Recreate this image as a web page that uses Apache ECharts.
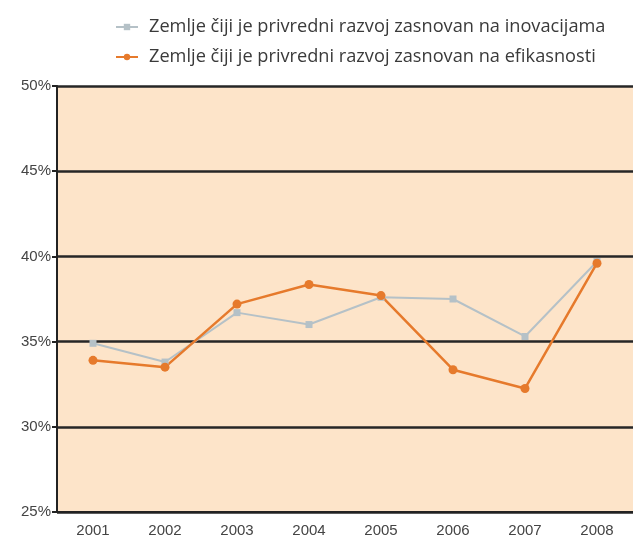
<!DOCTYPE html>
<html>
<head>
<meta charset="utf-8">
<script src="https://cdn.jsdelivr.net/npm/echarts@6/dist/echarts.min.js"></script>
<style>
  html, body { margin: 0; padding: 0; background: #fff; }
  #chart-wrapper { width: 633px; height: 542px; }
</style>
</head>
<body>
<div id="chart-wrapper"></div>
<script>
const years = ['2001', '2002', '2003', '2004', '2005', '2006', '2007', '2008']
const innovationName = 'Zemlje čiji je privredni razvoj zasnovan na inovacijama'
const efficiencyName = 'Zemlje čiji je privredni razvoj zasnovan na efikasnosti'
const innovation = [34.9, 33.8, 36.7, 36.0, 37.6, 37.5, 35.3, 39.7]
const efficiency = [33.9, 33.5, 37.2, 38.35, 37.7, 33.35, 32.25, 39.6]

const chart = echarts.init(document.getElementById('chart-wrapper'))

const option = {
  animation: false,
  backgroundColor: '#fff',
  textStyle: { fontFamily: 'Open Sans' },
  legend: {
    orient: 'vertical',
    left: 110,
    top: 13,
    itemGap: 12,
    itemWidth: 22,
    itemHeight: 8,
    textStyle: { fontSize: 18.2, color: '#3a3a3a', fontFamily: 'Open Sans', padding: [0, 0, 0, 6] },
    data: [innovationName, efficiencyName]
  },
  grid: {
    left: 57,
    top: 86,
    width: 584,
    height: 426,
    show: true,
    backgroundColor: '#fde4c9',
    borderWidth: 0
  },
  xAxis: {
    type: 'category',
    data: years,
    boundaryGap: true,
    axisLine: { lineStyle: { color: '#222', width: 2 } },
    axisTick: { length: 6, lineStyle: { color: '#222', width: 2 } },
    axisLabel: { color: '#444', fontSize: 15, margin: 11, fontFamily: 'Liberation Sans' }
  },
  yAxis: {
    type: 'value',
    min: 25,
    max: 50,
    interval: 5,
    axisLine: { show: true, lineStyle: { color: '#222', width: 2 } },
    axisTick: { show: true, length: 5, lineStyle: { color: '#222', width: 2 } },
    axisLabel: { color: '#444', fontSize: 15, margin: 6, formatter: '{value}%', fontFamily: 'Liberation Sans' },
    splitLine: { lineStyle: { color: '#262626', width: 2.5 } }
  },
  series: [
    {
      name: innovationName,
      type: 'line',
      data: innovation,
      symbol: 'rect',
      symbolSize: 7,
      color: '#b5c1c7',
      lineStyle: { width: 2, color: '#b5c1c7' }
    },
    {
      name: efficiencyName,
      type: 'line',
      data: efficiency,
      symbol: 'circle',
      symbolSize: 9,
      color: '#e67a2c',
      lineStyle: { width: 2.5, color: '#e67a2c' }
    }
  ]
}

chart.setOption(option)
</script>
</body>
</html>
